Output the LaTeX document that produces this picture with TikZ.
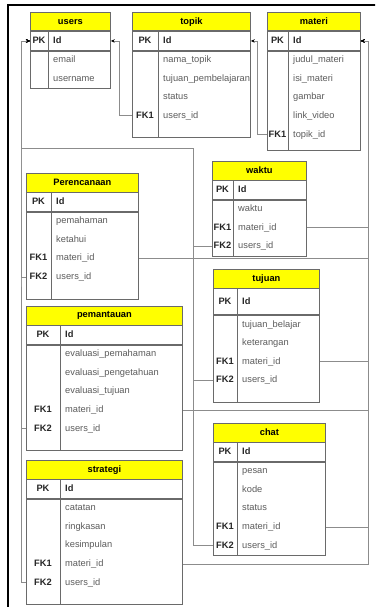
\documentclass[tikz,border=0pt]{standalone}
\usepackage{fontspec}
\setmainfont{Liberation Sans}
\usetikzlibrary{calc,arrows.meta}
\definecolor{headyellow}{HTML}{FFFF00}
\definecolor{boxgray}{HTML}{6A6A6A}
\definecolor{linkgray}{HTML}{8C8C8C}
\definecolor{fieldgray}{HTML}{5C5C5C}
\tikzset{
x=1pt, y=-1pt,
every node/.style={inner sep=0pt, font=\fontsize{9.3}{11}\selectfont},
tablehead/.style={draw=boxgray, line width=0.8pt, fill=headyellow, minimum height=18.5pt,
  font=\fontsize{9.3}{11}\selectfont\bfseries},
tablerow/.style={draw=boxgray, line width=0.8pt, fill=white},
tableline/.style={draw=boxgray, line width=0.8pt},
keytext/.style={font=\fontsize{9.3}{11}\selectfont\bfseries, text=black!85, text height=7pt, text depth=2pt},
fieldtext/.style={text=fieldgray, anchor=west, text height=7pt, text depth=2pt},
relation/.style={draw=linkgray, line width=0.8pt, -{Stealth[length=4pt, width=3.5pt, black]}},
frameline/.style={line width=2pt},
}

% #1 name, #2 title, #3 top left, #4 width, #5 key column, #6 pk height, #7 body height, #8 key/field rows
\newcommand{\ertable}[8]{%
  \node[tablehead, minimum width=#4pt, anchor=north west] (#1) at #3 {#2};
  \node[tablerow, minimum width=#4pt, minimum height=#6pt, anchor=north] (#1-pk) at (#1.south) {};
  \node[tablerow, minimum width=#4pt, minimum height=#7pt, anchor=north] (#1-body) at (#1-pk.south) {};
  \draw[tableline] ($(#1-pk.north west)+(#5,0)$) -- ($(#1-body.south west)+(#5,0)$);
  \node[keytext] (#1-pkkey) at ($(#1-pk.west)+(#5/2,0)$) {PK};
  \node[keytext, anchor=west] (#1-id) at ($(#1-pk.west)+(#5+5,0)$) {Id};
  \foreach \k/\f [count=\i] in {#8} {
    \node[fieldtext] (#1-\i) at ($(#1-body.north west)+(#5+5,9.5+18.6*\i-18.6)$) {\f};
    \node[keytext] (#1-key\i) at ($(#1-body.north west)+(#5/2,9.5+18.6*\i-18.6)$) {\k};
  }
}

\begin{document}
\begin{tikzpicture}
\useasboundingbox (0,0) rectangle (375,607);
\clip (0,0) rectangle (375,607);
\draw[frameline] (8,5) rectangle (400,640);

% tables
\ertable{users}{users}{(30,12)}{80}{18}{18.5}{37}{{}/email, {}/username}
\ertable{topik}{topik}{(132,12)}{118}{26}{18.5}{86}{{}/nama\_topik, {}/tujuan\_pembelajaran, {}/status, FK1/users\_id}
\ertable{materi}{materi}{(267,12)}{93}{21}{18.5}{99}{{}/judul\_materi, {}/isi\_materi, {}/gambar, {}/link\_video, FK1/topik\_id}
\ertable{perencanaan}{Perencanaan}{(26,173)}{112}{25}{18.5}{87}{{}/pemahaman, {}/ketahui, FK1/materi\_id, FK2/users\_id}
\ertable{waktu}{waktu}{(212,161)}{94}{21}{18.5}{56}{{}/waktu, FK1/materi\_id, FK2/users\_id}
\ertable{tujuan}{tujuan}{(213,269)}{106}{24}{26}{87}{{}/tujuan\_belajar, {}/keterangan, FK1/materi\_id, FK2/users\_id}
\ertable{pemantauan}{pemantauan}{(26,306)}{156}{34}{18.5}{105}{{}/evaluasi\_pemahaman, {}/evaluasi\_pengetahuan, {}/evaluasi\_tujuan, FK1/materi\_id, FK2/users\_id}
\ertable{chat}{chat}{(213,423)}{112}{24}{18.5}{93}{{}/pesan, {}/kode, {}/status, FK1/materi\_id, FK2/users\_id}
\ertable{strategi}{strategi}{(26,460)}{156}{34}{18.5}{105}{{}/catatan, {}/ringkasan, {}/kesimpulan, FK1/materi\_id, FK2/users\_id}

% bends of the shared lines
\coordinate (userbus) at (21,148);
\coordinate (userbend) at (193,148);
\coordinate (materibus) at (368,40);

% relations
\draw[relation] (topik-4 -| topik-body.west) -- ++(-13,0) |- (users-pk.east);
\draw[relation] (materi-5 -| materi-body.west) -- ++(-10,0) |- (topik-pk.east);
\foreach \t/\r in {perencanaan/4, pemantauan/5, strategi/5}
  \draw[relation] (\t-\r -| \t-body.west) -| (userbus) |- (users-pk.west);
\foreach \t/\r in {waktu/3, tujuan/4, chat/5}
  \draw[relation] (\t-\r -| \t-body.west) -| (userbend) -- (userbus) |- (users-pk.west);
\foreach \t/\r in {perencanaan/3, waktu/2, tujuan/3, pemantauan/4, chat/4, strategi/4}
  \draw[relation] (\t-\r -| \t-body.east) -| (materibus |- materi-pk) -- (materi-pk.east);
\end{tikzpicture}
\end{document}
